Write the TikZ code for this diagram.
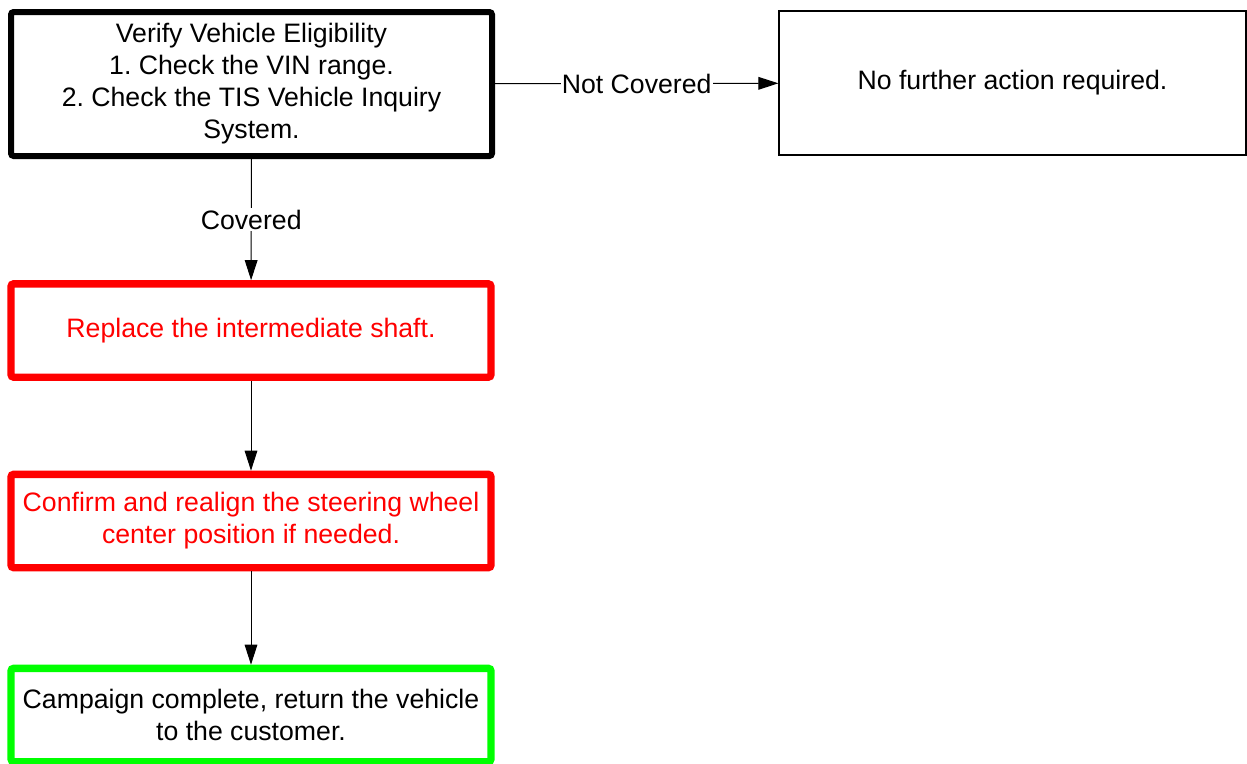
\documentclass[tikz,border=0pt]{standalone}
\usepackage{fontspec}
\setmainfont{Liberation Sans}
\usetikzlibrary{arrows.meta}
\frenchspacing

\begin{document}
\begin{tikzpicture}[x=0.75pt,y=-0.75pt,
  box/.style={draw,rounded corners=2pt,align=center,inner sep=2pt,
    font=\fontsize{20pt}{24pt}\selectfont},
  flow/.style={line width=0.75pt,-{Triangle[length=15pt,width=9.5pt]}},
  lbl/.style={fill=white,inner sep=1pt,font=\fontsize{20pt}{24pt}\selectfont}]
\useasboundingbox (0,0) rectangle (1247,764);
\node[box,line width=4.5pt,minimum width=360.75pt,minimum height=108pt] (verify) at (251.5,84)
  {Verify Vehicle Eligibility\\1. Check the VIN range.\\2. Check the TIS Vehicle Inquiry\\System.};
\node[box,line width=0.9pt,rounded corners=0pt,minimum width=350.25pt,minimum height=108pt] (nofurther) at (1012.5,83)
  {No further action required.};
\node[box,draw=red,text=red,line width=5.5pt,minimum width=360pt,minimum height=70pt] (replace) at (251,330.5)
  {Replace the intermediate shaft.};
\node[box,draw=red,text=red,line width=5.5pt,minimum width=360pt,minimum height=70pt] (confirm) at (251,521)
  {Confirm and realign the steering wheel\\center position if needed.};
\node[box,draw=green,line width=5.5pt,minimum width=360pt,minimum height=70pt] (campaign) at (251,715)
  {Campaign complete, return the vehicle\\to the customer.};
\draw[flow] (verify) -- node[lbl] {Not Covered} (nofurther);
\draw[flow] (verify) -- node[lbl] {Covered} (replace);
\draw[flow] (replace) -- (confirm);
\draw[flow] (confirm) -- (campaign);
\end{tikzpicture}
\end{document}
